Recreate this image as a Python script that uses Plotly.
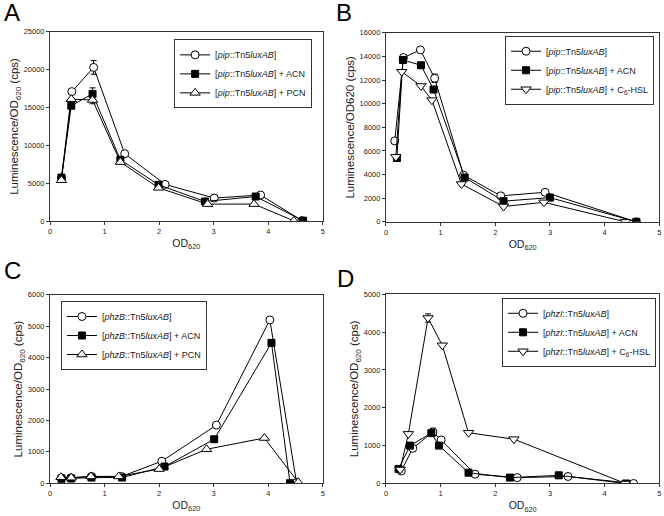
import plotly.graph_objects as go

# ---------------- Panel A data ----------------
a_x_pip = [0.21, 0.40, 0.80, 1.37, 2.11, 3.01, 3.86, 4.62]
a_y_pip = [5700, 17100, 20300, 8900, 4850, 3050, 3450, 60]
a_e_pip = [0, 0, 900, 0, 0, 0, 0, 0]
a_x_acn = [0.21, 0.39, 0.78, 1.29, 1.99, 2.84, 3.77, 4.64]
a_y_acn = [5750, 15250, 16800, 8100, 4800, 2600, 3250, 60]
a_e_acn = [0, 0, 800, 0, 0, 0, 0, 0]
a_x_pcn = [0.21, 0.39, 0.78, 1.29, 1.99, 2.89, 3.74, 4.47]
a_y_pcn = [5400, 16100, 16000, 7800, 4400, 2250, 2250, 40]
a_e_pcn = [0, 0, 500, 0, 0, 0, 0, 0]

# ---------------- Panel B data ----------------
b_x_pip = [0.16, 0.32, 0.63, 0.89, 1.42, 2.10, 2.91, 4.58]
b_y_pip = [6850, 13900, 14550, 12150, 3950, 2200, 2500, 0]
b_e_pip = [0, 0, 0, 350, 0, 0, 0, 0]
b_x_acn = [0.20, 0.31, 0.64, 0.87, 1.44, 2.15, 3.00, 4.58]
b_y_acn = [5400, 13700, 13250, 11200, 3750, 1750, 2050, 0]
b_x_c6 = [0.18, 0.29, 0.64, 0.84, 1.38, 2.15, 2.89, 4.38]
b_y_c6 = [5500, 12700, 11500, 10300, 3200, 1300, 1650, 0]

# ---------------- Panel C data ----------------
c_x_phzb = [0.21, 0.38, 0.76, 1.31, 2.05, 3.05, 4.03, 4.52]
c_y_phzb = [170, 170, 215, 215, 700, 1850, 5200, 20]
c_x_acn = [0.21, 0.39, 0.76, 1.32, 2.10, 3.01, 4.06, 4.40]
c_y_acn = [140, 150, 180, 180, 530, 1400, 4470, 0]
c_x_pcn = [0.20, 0.39, 0.75, 1.26, 2.00, 2.87, 3.93, 4.55]
c_y_pcn = [190, 175, 215, 215, 450, 1080, 1440, 30]

# ---------------- Panel D data ----------------
d_x_phzi = [0.28, 0.49, 0.86, 1.01, 1.63, 2.40, 3.33, 4.53]
d_y_phzi = [330, 930, 1360, 1150, 245, 155, 185, 0]
d_e_phzi = [0, 0, 100, 0, 0, 0, 0, 0]
d_x_acn = [0.23, 0.44, 0.83, 0.97, 1.51, 2.27, 3.16, 4.39]
d_y_acn = [385, 1000, 1330, 1000, 285, 155, 215, 0]
d_x_c6 = [0.26, 0.41, 0.77, 1.03, 1.51, 2.34, 4.38]
d_y_c6 = [370, 1310, 4370, 3650, 1340, 1170, 0]
d_e_c6 = [0, 0, 110, 0, 0, 0, 0]

x_ticks = [0, 1, 2, 3, 4, 5]

FONT = "Liberation Sans, Arial, sans-serif"

fig = go.Figure()

def marker(kind):
    if kind == "circle":
        return dict(symbol="circle", size=8, color="white", line=dict(color="black", width=1))
    if kind == "square":
        return dict(symbol="square", size=7, color="black", line=dict(color="black", width=1))
    if kind == "tri-up":
        return dict(symbol="triangle-up", size=9, color="white", line=dict(color="black", width=1))
    return dict(symbol="triangle-down", size=9, color="white", line=dict(color="black", width=1))

def add(x, y, name, kind, xa, ya, leg, err=None):
    kw = {}
    if err is not None:
        kw["error_y"] = dict(type="data", array=err, visible=True, color="black",
                             thickness=1, width=3)
    fig.add_trace(go.Scatter(x=x, y=y, name=name, mode="lines+markers",
                             line=dict(color="black", width=1), marker=marker(kind),
                             xaxis=xa, yaxis=ya, legend=leg, **kw))

pip = "[<i>pip</i>::Tn5<i>luxAB</i>]"
phzb = "[<i>phzB</i>::Tn5<i>luxAB</i>]"
phzi = "[<i>phzI</i>::Tn5<i>luxAB</i>]"

add(a_x_pip, a_y_pip, pip, "circle", "x", "y", "legend", a_e_pip)
add(a_x_acn, a_y_acn, pip + " + ACN", "square", "x", "y", "legend", a_e_acn)
add(a_x_pcn, a_y_pcn, pip + " + PCN", "tri-up", "x", "y", "legend", a_e_pcn)

add(b_x_pip, b_y_pip, pip, "circle", "x2", "y2", "legend2", b_e_pip)
add(b_x_acn, b_y_acn, pip + " + ACN", "square", "x2", "y2", "legend2")
add(b_x_c6, b_y_c6, pip + " + C<sub>6</sub>-HSL", "tri-down", "x2", "y2", "legend2")

add(c_x_phzb, c_y_phzb, phzb, "circle", "x3", "y3", "legend3")
add(c_x_acn, c_y_acn, phzb + " + ACN", "square", "x3", "y3", "legend3")
add(c_x_pcn, c_y_pcn, phzb + " + PCN", "tri-up", "x3", "y3", "legend3")

add(d_x_phzi, d_y_phzi, phzi, "circle", "x4", "y4", "legend4", d_e_phzi)
add(d_x_acn, d_y_acn, phzi + " + ACN", "square", "x4", "y4", "legend4")
add(d_x_c6, d_y_c6, phzi + " + C<sub>6</sub>-HSL", "tri-down", "x4", "y4", "legend4", d_e_c6)

W, H = 664, 516
def px(v): return v / W
def py(v): return 1 - v / H

def xaxis(dom, anchor):
    return dict(domain=dom, anchor=anchor, range=[0, 5], tickvals=x_ticks,
                ticks="outside", ticklen=3, tickcolor="#333", linecolor="#333", linewidth=1,
                mirror=True, showline=True, showgrid=False, zeroline=False,
                tickfont=dict(size=7.5, color="#222", family=FONT),
                title=dict(text="OD<sub>620</sub>", font=dict(size=10.5, color="#222", family=FONT),
                           standoff=4))

def yaxis(dom, anchor, rng, dt, title):
    return dict(domain=dom, anchor=anchor, range=rng, dtick=dt, tickformat="d",
                ticks="outside", ticklen=3, tickcolor="#333", linecolor="#333", linewidth=1,
                mirror=True, showline=True, showgrid=False, zeroline=False,
                tickfont=dict(size=7.5, color="#222", family=FONT),
                title=dict(text=title, font=dict(size=11.5, color="#222", family=FONT),
                           standoff=2))

xa_dom_l = [px(48.3), px(322.7)]
xa_dom_r = [px(386.3), px(661.3)]

ytitle = "Luminescence/OD<sub>620</sub> (cps)"

def legend(x, y, anchor="left"):
    return dict(x=x, y=y, xanchor=anchor, yanchor="top", bgcolor="white",
                bordercolor="#333", borderwidth=1, font=dict(size=9, family=FONT, color="#222"),
                tracegroupgap=0, itemwidth=30)

fig.update_layout(
    width=W, height=H, margin=dict(l=0, r=0, t=0, b=0),
    paper_bgcolor="white", plot_bgcolor="white",
    font=dict(family=FONT, color="#222"),
    xaxis=xaxis(xa_dom_l, "y"),
    yaxis=yaxis([py(221), py(28.3)], "x", [0, 25000], 5000, ytitle),
    xaxis2=xaxis(xa_dom_r, "y2"),
    yaxis2=yaxis([py(221.7), py(29.3)], "x2", [0, 16000], 2000, "Luminescence/OD620 (cps)"),
    xaxis3=xaxis(xa_dom_l, "y3"),
    yaxis3=yaxis([py(487.7), py(296)], "x3", [0, 6000], 1000, ytitle),
    xaxis4=xaxis(xa_dom_r, "y4"),
    yaxis4=yaxis([py(488), py(295.3)], "x4", [0, 5000], 1000, ytitle),
    legend=legend(px(312), py(36), "right"),
    legend2=legend(px(656), py(32.3), "right"),
    legend3=legend(px(59.3), py(302.3)),
    legend4=legend(px(658), py(299), "right"),
    showlegend=True,
)

for lab, x, y in [("A", 0, -7), ("B", 334, -7), ("C", 0, 255), ("D", 335, 264)]:
    fig.add_annotation(text=lab, x=px(x), y=py(y), xref="paper", yref="paper",
                       xanchor="left", yanchor="top", showarrow=False, yshift=0,
                       font=dict(size=24, family=FONT, color="black"))

fig.write_html("out.html", config={"displayModeBar": False},
               post_script="document.body.style.margin='0';document.body.style.overflow='hidden';")
